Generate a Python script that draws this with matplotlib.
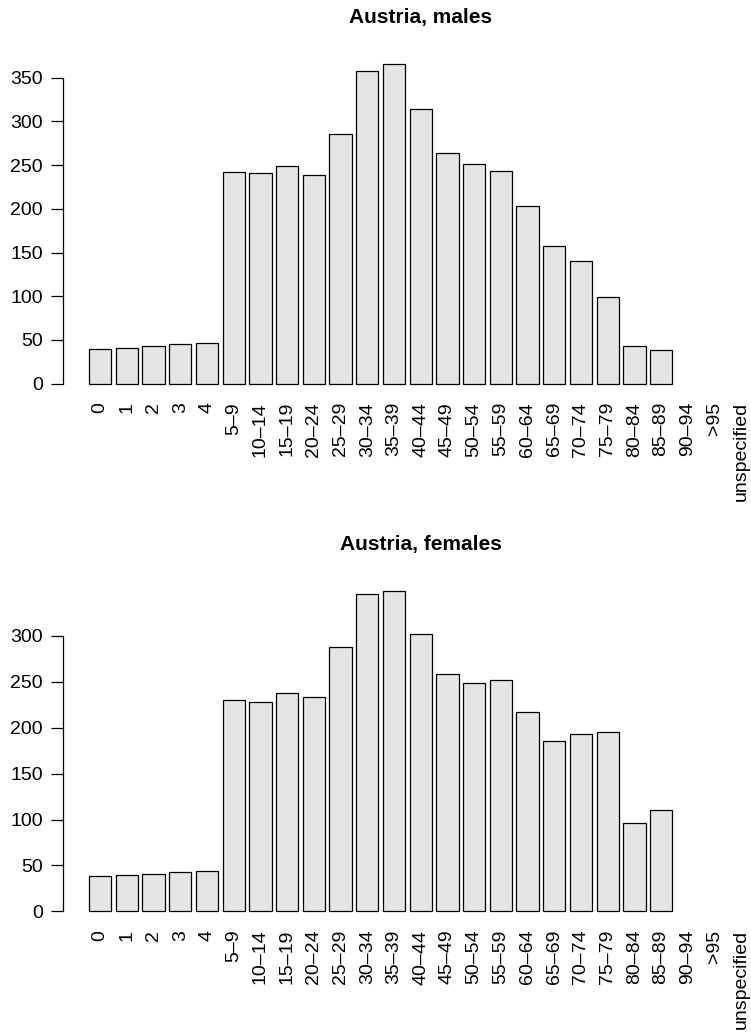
import numpy as np
import matplotlib
matplotlib.use("Agg")
import matplotlib.pyplot as plt

plt.rcParams['font.family'] = ['Liberation Sans', 'DejaVu Sans']

age_groups = ['0', '1', '2', '3', '4', '5–9', '10–14', '15–19', '20–24', '25–29',
              '30–34', '35–39', '40–44', '45–49', '50–54', '55–59', '60–64',
              '65–69', '70–74', '75–79', '80–84', '85–89', '90–94', '>95',
              'unspecified']
nan = np.nan
males = [40, 41, 43, 45, 46, 242, 241, 249, 239, 286, 358, 366, 314, 264,
         251, 243, 203, 158, 140, 99, 43, 39, nan, nan, nan]
females = [38, 39, 41, 43, 44, 230, 228, 238, 233, 288, 346, 349, 302, 259,
           249, 252, 217, 186, 193, 195, 96, 110, nan, nan, nan]
male_ticks = [0, 50, 100, 150, 200, 250, 300, 350]
female_ticks = [0, 50, 100, 150, 200, 250, 300]

W, H = 751, 1033
fig = plt.figure(figsize=(W / 100, H / 100), dpi=100)

# R barplot geometry: width 1, space 0.2
n = len(age_groups)
centers = 0.7 + 1.2 * np.arange(n)
xlo, xhi = 0.2, 1.2 * n
xpad = (xhi - xlo) * 0.04
px_per_unit = 22.26
ax_w = (xhi - xlo + 2 * xpad) * px_per_unit

panels = [
    ('Austria, males', males, male_ticks, 50.9, 396.5),
    ('Austria, females', females, female_ticks, 578.2, 924.1),
]

for title, vals, ticks, top_px, bot_px in panels:
    ax = fig.add_axes([62.5 / W, 1 - bot_px / H, ax_w / W, (bot_px - top_px) / H])
    v = np.array(vals, dtype=float)
    ax.bar(centers, v, width=1.0, color='#e5e5e5', edgecolor='black',
           linewidth=0.9)
    vmax = np.nanmax(v)
    ax.set_ylim(-0.04 * vmax, 1.04 * vmax)
    ax.set_xlim(xlo - xpad, xhi + xpad)

    for s in ['top', 'right', 'bottom']:
        ax.spines[s].set_visible(False)
    ax.spines['left'].set_bounds(ticks[0], ticks[-1])
    ax.spines['left'].set_linewidth(0.9)
    ax.set_yticks(ticks)
    ax.set_yticklabels([str(t) for t in ticks], fontsize=14)
    ax.tick_params(axis='y', length=9, width=0.9, pad=5)

    ax.set_xticks(centers)
    ax.set_xticklabels(age_groups, rotation=90, fontsize=14, va='top',
                       ha='center')
    ax.tick_params(axis='x', length=0, pad=4)

    ax.set_title(title, fontsize=15, fontweight='bold', pad=20)

fig.savefig('out.png', dpi=100)
